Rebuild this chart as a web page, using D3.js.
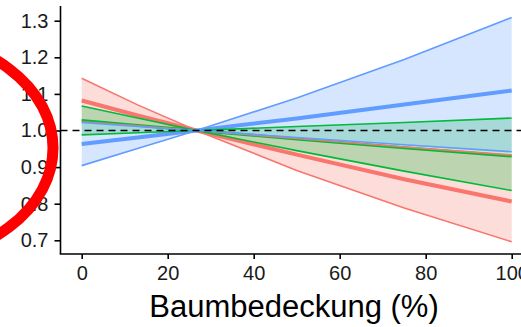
<!DOCTYPE html>
<html lang="de">
  <head>
    <meta charset="utf-8">
    <title>Baumbedeckung</title>
    <script src="https://d3js.org/d3.v7.min.js"></script>
    <style type="text/css">
      body {
        margin: 0;
        background: #fff;
      }
      svg {
        display: block;
        font-family: "Liberation Sans", Arial, sans-serif;
      }
    </style>
  </head>
  <body>
    <div id="chart"></div>
  </body>
</html>
<script type="text/javascript">
  // Baumbedeckung (%) - Stützstellen
  const cover = [0, 13, 26.7, 50, 75, 100];

  // rote Gruppe
  const redMean  = [1.082, 1.041, 1.0, 0.934, 0.867, 0.806];
  const redUpper = [1.143, 1.070, 1.0, 0.978, 0.955, 0.933];
  const redLower = [1.024, 1.013, 1.0, 0.891, 0.788, 0.696];

  // grüne Gruppe
  const greenMean  = [1.027, 1.014, 1.0, 0.977, 0.953, 0.930];
  const greenUpper = [1.067, 1.034, 1.0, 1.011, 1.022, 1.034];
  const greenLower = [0.988, 0.994, 1.0, 0.945, 0.889, 0.836];

  // blaue Gruppe
  const blueMean  = [0.963, 0.981, 1.0, 1.033, 1.071, 1.109];
  const blueUpper = [1.022, 1.011, 1.0, 1.089, 1.194, 1.309];
  const blueLower = [0.904, 0.951, 1.0, 0.981, 0.961, 0.942];

  const xTicks = [0, 20, 40, 60, 80, 100];
  const yTicks = [0.7, 0.8, 0.9, 1.0, 1.1, 1.2, 1.3];

  const width = 521,
    height = 327;

  const series = [
    {color: "#F8766D", mean: redMean, upper: redUpper, lower: redLower, lw: 4},
    {color: "#00BA38", mean: greenMean, upper: greenUpper, lower: greenLower, lw: 3},
    {color: "#619CFF", mean: blueMean, upper: blueUpper, lower: blueLower, lw: 4}
  ];

  const svg = d3.select("#chart").append("svg")
    .attr("width", width)
    .attr("height", height);

  const x = d3.scaleLinear().domain([0, 100]).range([81.7, 511.7]);
  const y = d3.scaleLinear().domain([0.7, 1.3]).range([240.3, 20.7]);

  const axisX = 60.5, axisY = 254;

  const area = d3.area()
    .x(function(d) { return x(d.x); })
    .y0(function(d) { return y(d.lo); })
    .y1(function(d) { return y(d.hi); });

  const line = d3.line()
    .x(function(d) { return x(d.x); })
    .y(function(d) { return y(d.v); });

  const pts = function(arr) { return cover.map(function(c, i) { return {x: c, v: arr[i]}; }); };

  // Bänder
  series.forEach(function(s) {
    const band = cover.map(function(c, i) { return {x: c, lo: s.lower[i], hi: s.upper[i]}; });
    svg.append("path")
      .attr("d", area(band))
      .attr("fill", s.color)
      .attr("fill-opacity", 0.25);
  });

  // Mittelwerte zuerst, dann die Ränder darüber
  series.forEach(function(s) {
    svg.append("path")
      .attr("d", line(pts(s.mean)))
      .attr("fill", "none")
      .attr("stroke", s.color)
      .attr("stroke-width", s.lw);
  });
  series.forEach(function(s) {
    [s.upper, s.lower].forEach(function(arr) {
      svg.append("path")
        .attr("d", line(pts(arr)))
        .attr("fill", "none")
        .attr("stroke", s.color)
        .attr("stroke-width", 1.6);
    });
  });

  // Referenzlinie bei 1
  svg.append("line")
    .attr("x1", axisX).attr("x2", width)
    .attr("y1", y(1)).attr("y2", y(1))
    .attr("stroke", "#000")
    .attr("stroke-width", 1.6)
    .attr("stroke-dasharray", "7,5");

  // Achsen
  const gy = svg.append("g")
    .attr("transform", "translate(" + axisX + ",0)")
    .call(d3.axisLeft(y).tickValues(yTicks).tickFormat(d3.format(".1f")).tickSizeInner(6).tickSizeOuter(0).tickPadding(6));
  gy.select(".domain").remove();
  svg.append("line")
    .attr("x1", axisX).attr("x2", axisX)
    .attr("y1", 6).attr("y2", axisY)
    .attr("stroke", "#000").attr("stroke-width", 1.6);

  const gx = svg.append("g")
    .attr("transform", "translate(0," + axisY + ")")
    .call(d3.axisBottom(x).tickValues(xTicks).tickSizeInner(5).tickSizeOuter(0).tickPadding(7));
  gx.select(".domain").remove();
  svg.append("line")
    .attr("x1", axisX - 0.8).attr("x2", width + 10)
    .attr("y1", axisY).attr("y2", axisY)
    .attr("stroke", "#000").attr("stroke-width", 1.6);

  svg.selectAll(".tick line").attr("stroke", "#000").attr("stroke-width", 1.6);
  svg.selectAll(".tick text")
    .attr("fill", "#1a1a1a")
    .style("font-size", "20px")
    .style("font-family", "'Liberation Sans', Arial, sans-serif");

  svg.append("text")
    .attr("x", 294)
    .attr("y", 317)
    .attr("text-anchor", "middle")
    .style("font-size", "31px")
    .text("Baumbedeckung (%)");

  // rote Markierung
  svg.append("ellipse")
    .attr("cx", -97)
    .attr("cy", 148)
    .attr("rx", 150)
    .attr("ry", 112)
    .attr("fill", "none")
    .attr("stroke", "#ff0000")
    .attr("stroke-width", 11);
</script>
